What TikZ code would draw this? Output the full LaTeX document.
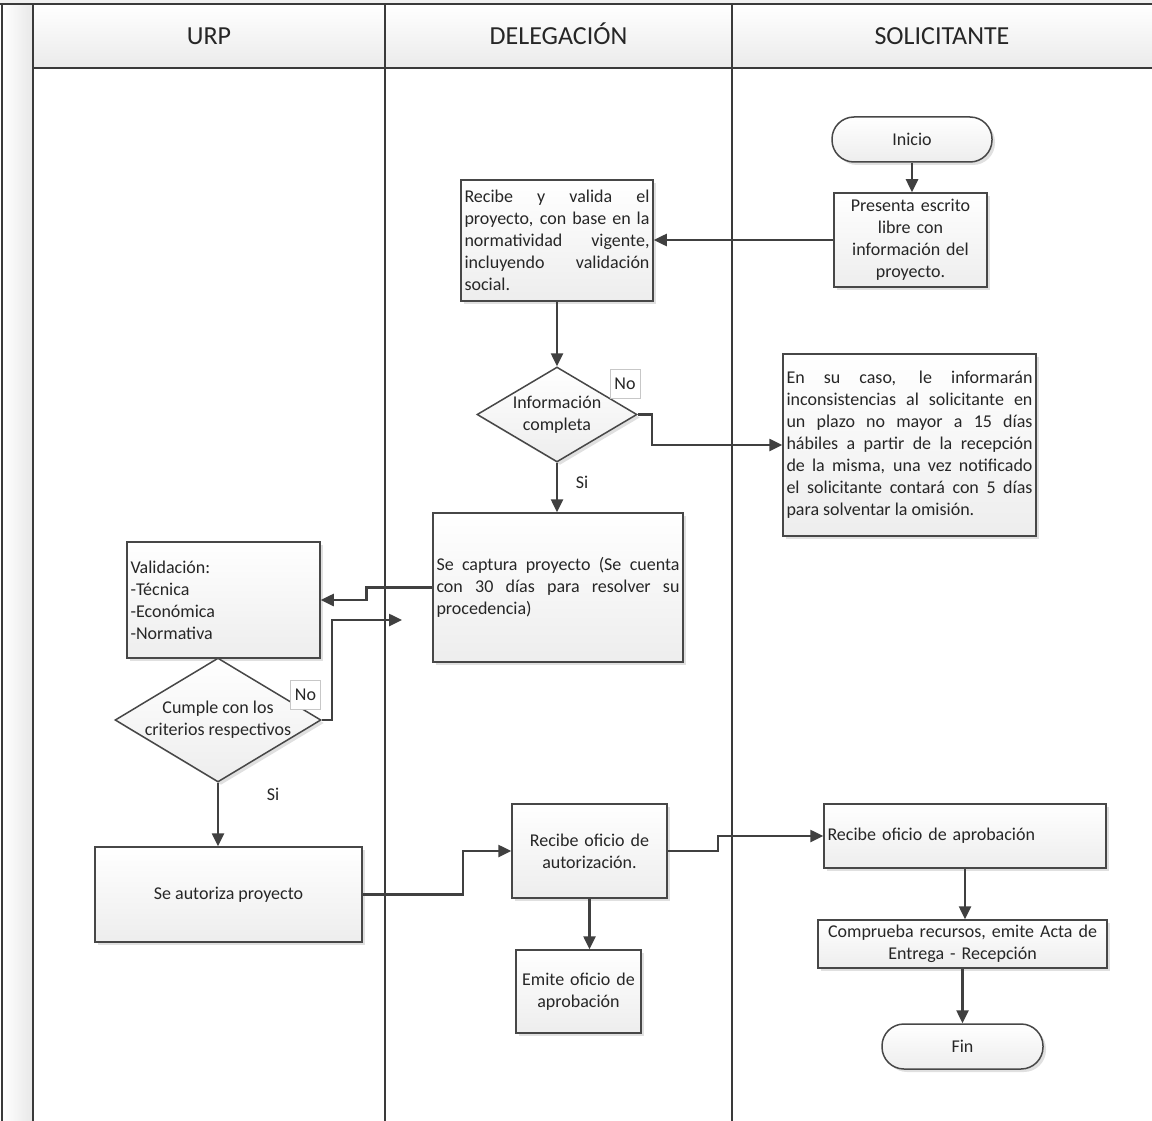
\documentclass[tikz,border=0pt]{standalone}
\usepackage{fontspec}
\setmainfont{Carlito}
\usetikzlibrary{shapes.geometric,shadows,arrows.meta,calc}
\definecolor{bord}{HTML}{474747}
\definecolor{conn}{HTML}{404040}
\definecolor{lane}{HTML}{3A3A3A}
\newcommand\mytxt{\fontsize{18}{22}\selectfont}
\newcommand\myhead{\fontsize{26}{30}\selectfont}
\tolerance=9999
\hbadness=10000
\begin{document}
\begin{tikzpicture}[x=1pt,y=-1pt,
  boxbase/.style={draw=bord, line width=1.5pt, top color=white, middle color=white, bottom color=black!7,
    drop shadow={shadow xshift=3pt,shadow yshift=-3pt,fill=black,opacity=0.12},
    inner sep=0pt, font=\mytxt, text=black!85},
  procbox/.style={boxbase, rectangle},
  termbox/.style={boxbase, rectangle, rounded corners=22pt, align=center},
  decbox/.style={boxbase, diamond, aspect=1},
  dtext/.style={font=\mytxt, text=black!85, align=center, inner sep=0pt},
  nobox/.style={draw=black!22, line width=0.8pt, fill=white, minimum width=30pt, minimum height=29pt, inner sep=0pt, font=\mytxt, text=black!85},
  lbl/.style={font=\mytxt, text=black!85, inner sep=0pt},
  hdr/.style={font=\myhead, text=black!85, inner sep=0pt, anchor=base},
  arr/.style={draw=conn, line width=2.5pt, -{Triangle[length=13pt,width=12pt]}},
  laneline/.style={draw=lane, line width=1.3pt}
]
\useasboundingbox (0,0) rectangle (1152,1121);
\fill[white] (0,0) rectangle (1152,1121);
% frame
\fill[black!6] (0,0) rectangle (1152,4);
\shade[left color=white, right color=black!9] (2,4) rectangle (33,1121);
\shade[top color=white, middle color=white, bottom color=black!8] (33,4) rectangle (1152,68);
\draw[laneline] (0,4) -- (1152,4);
\draw[laneline] (33,68) -- (1152,68);
\draw[laneline, line width=2pt] (2,4) -- (2,1121);
\draw[laneline] (33,4) -- (33,1121);
\draw[laneline] (385,4) -- (385,1121);
\draw[laneline] (732,4) -- (732,1121);
% headers
\node[hdr] (h1) at (209,45) {URP};
\node[hdr] (h2) at (558.5,45) {DELEGACIÓN};
\node[hdr] (h3) at (942,45) {SOLICITANTE};

% nodes
\node[termbox, minimum width=160pt, minimum height=45pt] (ini) at (912,139.5) {Inicio};
\node[procbox, minimum width=153pt, minimum height=94pt, text width=146pt, align=center] (pres) at (910.5,240)
  {Presenta escrito\\libre con\\información del\\proyecto.};
\node[procbox, minimum width=192pt, minimum height=121pt, text width=185pt, align=justify] (rv) at (557,240.5)
  {Recibe y valida el\linebreak proyecto, con base en la\linebreak normatividad vigente,\linebreak incluyendo validación\linebreak social.};
\node[decbox, minimum width=160pt, minimum height=95pt] (d1) at (557,414.5) {};
\node[dtext] (d1t) at (d1.center) {Información\\completa};
\node[procbox, minimum width=253pt, minimum height=182pt, text width=246pt, align=justify] (info) at (909.5,445)
  {En su caso, le informarán\linebreak inconsistencias al solicitante en\linebreak un plazo no mayor a 15 días\linebreak hábiles a partir de la recepción\linebreak de la misma, una vez notificado\linebreak el solicitante contará con 5 días\linebreak para solventar la omisión.};
\node[procbox, minimum width=250pt, minimum height=149pt, text width=243pt, align=justify] (capt) at (558,587.5)
  {Se captura proyecto (Se cuenta\linebreak con 30 días para resolver su\linebreak procedencia)};
\node[procbox, minimum width=193pt, minimum height=116pt, text width=186pt, align=left] (val) at (223.5,600)
  {Validación:\\-Técnica\\-Económica\\-Normativa};
\node[decbox, minimum width=206pt, minimum height=124pt] (d2) at (218,720) {};
\node[dtext] (d2t) at (d2.center) {Cumple con los\\criterios respectivos};
\node[procbox, minimum width=267pt, minimum height=95pt, align=center] (aut) at (228.5,894.5) {Se autoriza proyecto};
\node[procbox, minimum width=155pt, minimum height=94pt, text width=148pt, align=center] (rao) at (589.5,851)
  {Recibe oficio de\\autorización.};
\node[procbox, minimum width=125pt, minimum height=83pt, text width=118pt, align=center] (emi) at (578.5,991.5)
  {Emite oficio de\\aprobación};
\node[procbox, minimum width=282pt, minimum height=64pt, text width=275pt, align=left] (rap) at (965,836)
  {Recibe oficio de aprobación};
\node[procbox, minimum width=289pt, minimum height=48pt, text width=282pt, align=center] (comp) at (962.5,944)
  {Comprueba recursos, emite Acta de\\Entrega - Recepción};
\node[termbox, minimum width=161pt, minimum height=45pt] (fin) at (962.5,1046.5) {Fin};

% labels
\node[nobox] (no1) at (625,383.5) {No};
\node[nobox] (no2) at (305.5,695) {No};
\node[lbl] (si1) at (582,482) {Si};
\node[lbl] (si2) at (273,794) {Si};

\coordinate (c1) at (402,620);

% connectors
\draw[arr] (ini.south) -- (ini.south |- pres.north);
\draw[arr] (pres.west) -- (pres.west -| rv.east);
\draw[arr] (rv.south) -- (d1.north);
\draw[arr] (d1.east) -- ++(14,0) |- (info.west);
\draw[arr] (d1.south) -- (d1.south |- capt.north);
\draw[arr] (capt.west) -- ++(-66,0) |- (val.east);
\draw[arr] (d2.east) -- ++(10,0) |- (c1);
\draw[arr] (d2.south) -- (d2.south |- aut.north);
\draw[arr] (aut.east) -- ++(100,0) |- (rao.west);
\draw[arr] (rao.south) -- (rao.south |- emi.north);
\draw[arr] (rao.east) -- ++(50,0) |- (rap.west);
\draw[arr] (rap.south) -- (rap.south |- comp.north);
\draw[arr] (comp.south) -- (fin.north);
\end{tikzpicture}
\end{document}
